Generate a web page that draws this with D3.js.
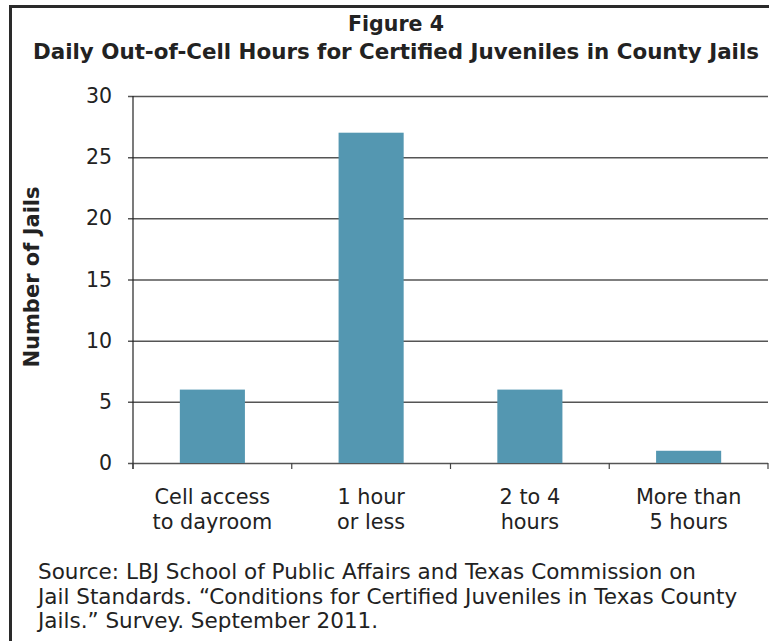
<!DOCTYPE html>
<html>
<head>
<meta charset="utf-8">
<script src="https://cdn.jsdelivr.net/npm/d3@7"></script>
<style>
  body { margin: 0; background: #fff; }
  text { font-family: "DejaVu Sans", Verdana, sans-serif; fill: #222; }
</style>
</head>
<body>
<svg id="chart"></svg>
<script>
// chart data
const categories = [["Cell access", "to dayroom"], ["1 hour", "or less"], ["2 to 4", "hours"], ["More than", "5 hours"]];
const jails = [6, 27, 6, 1];
const yTicks = [0, 5, 10, 15, 20, 25, 30];
const sourceLines = [
  "Source: LBJ School of Public Affairs and Texas Commission on",
  "Jail Standards. \u201cConditions for Certified Juveniles in Texas County",
  "Jails.\u201d Survey. September 2011."
];

const width = 769, height = 641;
const margin = {top: 96, right: 1, bottom: 178, left: 133};
const innerW = width - margin.left - margin.right;
const innerH = height - margin.top - margin.bottom;

const svg = d3.select("#chart")
  .attr("width", width)
  .attr("height", height);

// frame around the figure
svg.append("path")
  .attr("d", `M10.5,${height} V6.5 H${width}`)
  .attr("fill", "none")
  .attr("stroke", "#2a2a2a")
  .attr("stroke-width", 3);

svg.append("text")
  .attr("x", 396).attr("y", 31)
  .attr("text-anchor", "middle")
  .attr("font-size", "21px").attr("font-weight", "bold")
  .attr("textLength", 96).attr("lengthAdjust", "spacingAndGlyphs")
  .text("Figure 4");

svg.append("text")
  .attr("x", 396).attr("y", 59)
  .attr("text-anchor", "middle")
  .attr("font-size", "21px").attr("font-weight", "bold")
  .attr("textLength", 726).attr("lengthAdjust", "spacingAndGlyphs")
  .text("Daily Out-of-Cell Hours for Certified Juveniles in County Jails");

const chart = svg.append("g")
  .attr("transform", `translate(${margin.left},${margin.top})`);

const x = d3.scaleBand()
  .domain(d3.range(categories.length))
  .range([0, innerW])
  .paddingInner(0.59)
  .paddingOuter(0.295);

const y = d3.scaleLinear()
  .domain([0, 30])
  .range([innerH, 0]);

// gridlines + y axis
const yAxis = d3.axisLeft(y)
  .tickValues(yTicks)
  .tickSize(-innerW)
  .tickPadding(21);

const yAxisG = chart.append("g").call(yAxis);
yAxisG.select(".domain").remove();
yAxisG.selectAll(".tick line")
  .attr("x1", -5)
  .attr("stroke", "#555")
  .attr("stroke-width", 1.5);
yAxisG.selectAll(".tick text")
  .attr("font-size", "20.5px")
  .attr("fill", "#222")
  .style("font-family", "DejaVu Sans, Verdana, sans-serif");

chart.append("line")
  .attr("x1", 0).attr("x2", 0)
  .attr("y1", 0).attr("y2", innerH + 6)
  .attr("stroke", "#222").attr("stroke-width", 1.2);

// category boundary ticks
chart.selectAll(".cat-tick")
  .data(d3.range(categories.length + 1))
  .join("line")
    .attr("class", "cat-tick")
    .attr("x1", i => i * innerW / categories.length)
    .attr("x2", i => i * innerW / categories.length)
    .attr("y1", innerH).attr("y2", innerH + 6)
    .attr("stroke", "#444").attr("stroke-width", 1.2);

chart.selectAll(".bar")
  .data(jails)
  .join("rect")
    .attr("class", "bar")
    .attr("x", (d, i) => x(i))
    .attr("y", d => y(d))
    .attr("width", x.bandwidth())
    .attr("height", d => innerH - y(d))
    .attr("fill", "#5497b1");

// category labels
const labels = chart.selectAll(".cat-label")
  .data(categories)
  .join("text")
    .attr("class", "cat-label")
    .attr("text-anchor", "middle")
    .attr("font-size", "20.8px")
    .attr("transform", (d, i) => `translate(${x(i) + x.bandwidth() / 2},${innerH + 41})`);

labels.selectAll("tspan")
  .data(d => d)
  .join("tspan")
    .attr("x", 0)
    .attr("dy", (d, i) => i === 0 ? 0 : 25)
    .text(d => d);

// y axis title
svg.append("text")
  .attr("transform", `translate(39,277) rotate(-90)`)
  .attr("text-anchor", "middle")
  .attr("font-size", "21px").attr("font-weight", "bold")
  .text("Number of Jails");

// source note
svg.append("g")
  .selectAll("text")
  .data(sourceLines)
  .join("text")
    .attr("x", 38)
    .attr("y", (d, i) => 579 + i * 24.5)
    .attr("font-size", "21.5px")
    .text(d => d);
</script>
</body>
</html>
